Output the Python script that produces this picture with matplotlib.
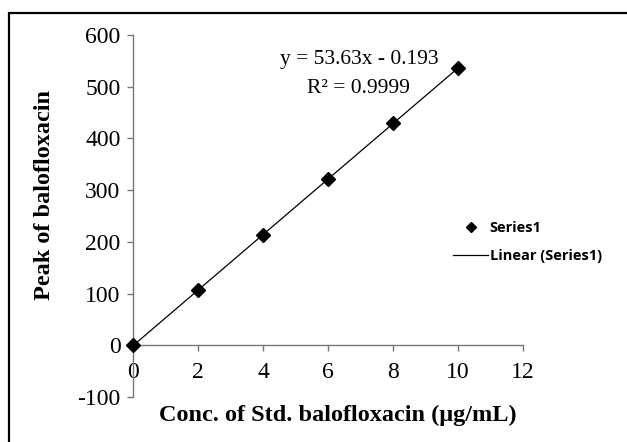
import numpy as np
import matplotlib.pyplot as plt
from matplotlib.patches import Rectangle
from matplotlib.lines import Line2D

plt.rcParams['font.family'] = ['Liberation Serif', 'DejaVu Serif']
plt.rcParams['axes.unicode_minus'] = False

conc = [0, 2, 4, 6, 8, 10]
peak = [0, 106, 213, 322, 429, 536]

fig = plt.figure(figsize=(6.27, 4.42), dpi=100)
ax = fig.add_axes([133 / 627, 45 / 442, 390 / 627, 362 / 442])

# trendline from least squares fit
slope, icpt = np.polyfit(conc, peak, 1)
xf = np.array([0, 10])
ax.plot(xf, slope * xf + icpt, color='black', lw=0.9, zorder=2)
ax.plot(conc, peak, 'D', color='black', ms=7, zorder=3, clip_on=False)

ax.set_xlim(0, 12)
ax.set_ylim(-100, 600)
ax.set_xticks(range(0, 13, 2))
ax.set_yticks(range(-100, 601, 100))

ax.spines['top'].set_visible(False)
ax.spines['right'].set_visible(False)
ax.spines['bottom'].set_position(('data', 0))
for s in ['left', 'bottom']:
    ax.spines[s].set_color('#777777')
    ax.spines[s].set_linewidth(1.0)
ax.tick_params(axis='both', labelsize=17, color='#777777', length=4, width=1.0)
ax.tick_params(axis='x', pad=8)
ax.tick_params(axis='y', pad=5)

fig.text(45 / 627, 1 - 195 / 442, 'Peak of balofloxacin', fontsize=17.5,
         fontweight='bold', rotation=90, ha='center', va='center')
fig.text(338 / 627, 1 - 415 / 442, 'Conc. of Std. balofloxacin (\u03bcg/mL)',
         fontsize=17.5, fontweight='bold', ha='center', va='center')

ax.text(6.95, 553, 'y = 53.63x - 0.193', fontsize=15.5, ha='center', va='center')
ax.text(6.95, 497, 'R\u00b2 = 0.9999', fontsize=15.5, ha='center', va='center')

handles = [Line2D([], [], marker='D', color='black', ls='none', ms=5.5),
           Line2D([], [], color='black', lw=0.9)]
fig.legend(handles, ['Series1', 'Linear (Series1)'], loc='center left',
           bbox_to_anchor=(440 / 627, 1 - 242 / 442), frameon=False,
           handlelength=2.4, handletextpad=0.1, labelspacing=1.0,
           prop={'family': 'Open Sans', 'weight': 'bold', 'size': 10.5})

fig.patches.append(Rectangle((9 / 627, -0.05), 1.0, 1 - 13 / 442 + 0.05,
                             transform=fig.transFigure, fill=False,
                             edgecolor='black', lw=1.6))

fig.savefig('out.png', dpi=100)
